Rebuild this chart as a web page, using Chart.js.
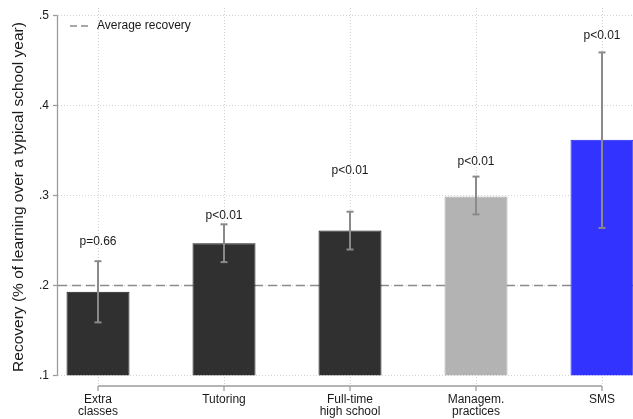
<!DOCTYPE html>
<html>
<head>
<meta charset="utf-8">
<script src="https://cdn.jsdelivr.net/npm/chart.js@4/dist/chart.umd.min.js"></script>
<style>
  html, body { margin: 0; padding: 0; background: #fff; }
  canvas { display: block; }
</style>
</head>
<body>
<canvas id="recoveryChart" width="633" height="419"></canvas>
<script>
const categories = [['Extra', 'classes'], ['Tutoring'], ['Full-time', 'high school'], ['Managem.', 'practices'], ['SMS']];
const recovery = [0.193, 0.247, 0.261, 0.299, 0.362];
const ciLow = [0.159, 0.226, 0.240, 0.279, 0.264];
const ciHigh = [0.227, 0.268, 0.282, 0.321, 0.459];
const pValues = ['p=0.66', 'p<0.01', 'p<0.01', 'p<0.01', 'p<0.01'];
const pLabelAt = [0.249, 0.278, 0.328, 0.338, 0.478];
const averageRecovery = 0.2;
const yTicks = [0.1, 0.2, 0.3, 0.4, 0.5];
const yTickLabels = ['.1', '.2', '.3', '.4', '.5'];

const FONT = '"Liberation Sans", Arial, Helvetica, sans-serif';
const TEXT = '#1a1a1a';
const barFill = ['#303030', '#303030', '#303030', '#b3b3b3', '#3333ff'];
const barEdge = ['#1c1c1c', '#1c1c1c', '#1c1c1c', '#a9a9a9', '#2222ee'];

function line(ctx, x1, y1, x2, y2) {
    ctx.beginPath();
    ctx.moveTo(x1, y1);
    ctx.lineTo(x2, y2);
    ctx.stroke();
}

// grid, reference line and axes behind the bars; whiskers, labels and legend on top
const stataDecor = {
    id: 'stataDecor',
    beforeDatasetsDraw(chart) {
        const { ctx, chartArea: a, scales: { x, y } } = chart;
        ctx.save();

        ctx.strokeStyle = '#d2d2d2';
        ctx.lineWidth = 1;
        ctx.setLineDash([1, 2]);
        yTicks.forEach(v => {
            const py = Math.round(y.getPixelForValue(v)) + 0.5;
            line(ctx, a.left, py, a.right, py);
        });
        categories.forEach((c, i) => {
            const px = Math.round(x.getPixelForValue(i + 1)) + 0.5;
            line(ctx, px, a.top, px, a.bottom);
        });

        ctx.setLineDash([9, 5]);
        ctx.strokeStyle = '#8c8c8c';
        ctx.lineWidth = 1.6;
        const ay = y.getPixelForValue(averageRecovery);
        line(ctx, a.left, ay, a.right, ay);

        ctx.setLineDash([]);
        ctx.strokeStyle = '#9c9c9c';
        ctx.lineWidth = 1.3;
        const yTop = y.getPixelForValue(yTicks[yTicks.length - 1]);
        const yBot = y.getPixelForValue(yTicks[0]);
        line(ctx, a.left - 0.5, yTop, a.left - 0.5, yBot);
        yTicks.forEach(v => {
            const py = y.getPixelForValue(v);
            line(ctx, a.left - 5, py, a.left - 0.5, py);
        });
        const xb = a.bottom;
        line(ctx, x.getPixelForValue(1), xb, x.getPixelForValue(categories.length), xb);
        categories.forEach((c, i) => {
            const px = x.getPixelForValue(i + 1);
            line(ctx, px, xb, px, xb + 5);
        });
        ctx.restore();
    },
    afterDatasetsDraw(chart) {
        const { ctx, scales: { x, y } } = chart;
        ctx.save();
        ctx.strokeStyle = '#8a8a8a';
        ctx.lineWidth = 2;
        categories.forEach((c, i) => {
            const px = x.getPixelForValue(i + 1);
            const hi = y.getPixelForValue(ciHigh[i]);
            const lo = y.getPixelForValue(ciLow[i]);
            line(ctx, px, hi, px, lo);
            line(ctx, px - 3.5, hi, px + 3.5, hi);
            line(ctx, px - 3.5, lo, px + 3.5, lo);
        });

        ctx.fillStyle = TEXT;
        ctx.font = '12px ' + FONT;
        ctx.textAlign = 'center';
        ctx.textBaseline = 'middle';
        pValues.forEach((p, i) => {
            ctx.fillText(p, x.getPixelForValue(i + 1), y.getPixelForValue(pLabelAt[i]));
        });

        // legend
        ctx.strokeStyle = '#8c8c8c';
        ctx.lineWidth = 1.6;
        ctx.setLineDash([7, 4]);
        line(ctx, 70, 26, 88, 26);
        ctx.setLineDash([]);
        ctx.textAlign = 'left';
        ctx.fillText('Average recovery', 97, 26);
        ctx.restore();
    }
};

const ctx = document.getElementById('recoveryChart').getContext('2d');
new Chart(ctx, {
    type: 'bar',
    data: {
        datasets: [{
            data: categories.map((c, i) => ({ x: i + 1, y: recovery[i] })),
            base: yTicks[0],
            backgroundColor: barFill,
            borderColor: barEdge,
            borderWidth: 1,
            barPercentage: 0.5,
            categoryPercentage: 1.0
        }]
    },
    options: {
        responsive: false,
        animation: false,
        devicePixelRatio: 1,
        layout: { padding: { top: 8, left: 0, right: 0, bottom: 0 } },
        plugins: {
            legend: { display: false },
            tooltip: { enabled: false }
        },
        scales: {
            x: {
                type: 'linear',
                offset: false,
                min: 0.6825,
                max: 5.246,
                afterBuildTicks: scale => {
                    scale.ticks = categories.map((c, i) => ({ value: i + 1 }));
                },
                afterFit: scale => { scale.height = 33; },
                grid: { display: false, offset: false, drawTicks: true, tickLength: 7 },
                border: { display: false },
                ticks: {
                    padding: 0,
                    maxRotation: 0,
                    autoSkip: false,
                    color: TEXT,
                    font: { family: FONT, size: 12, lineHeight: 1.05 },
                    callback: value => categories[value - 1] || ''
                }
            },
            y: {
                min: 0.08833,
                max: 0.50833,
                afterBuildTicks: scale => {
                    scale.ticks = yTicks.map(v => ({ value: v }));
                },
                afterFit: scale => { scale.width = 58; },
                grid: { display: false, drawTicks: true, tickLength: 9 },
                border: { display: false },
                title: {
                    display: true,
                    text: 'Recovery (% of learning over a typical school year)',
                    color: TEXT,
                    font: { family: FONT, size: 15.5 },
                    padding: { top: 9, bottom: 0 }
                },
                ticks: {
                    padding: 0,
                    color: TEXT,
                    font: { family: FONT, size: 12 },
                    callback: value => yTickLabels[yTicks.findIndex(t => Math.abs(t - value) < 1e-9)] || ''
                }
            }
        }
    },
    plugins: [stataDecor]
});
</script>
</body>
</html>
